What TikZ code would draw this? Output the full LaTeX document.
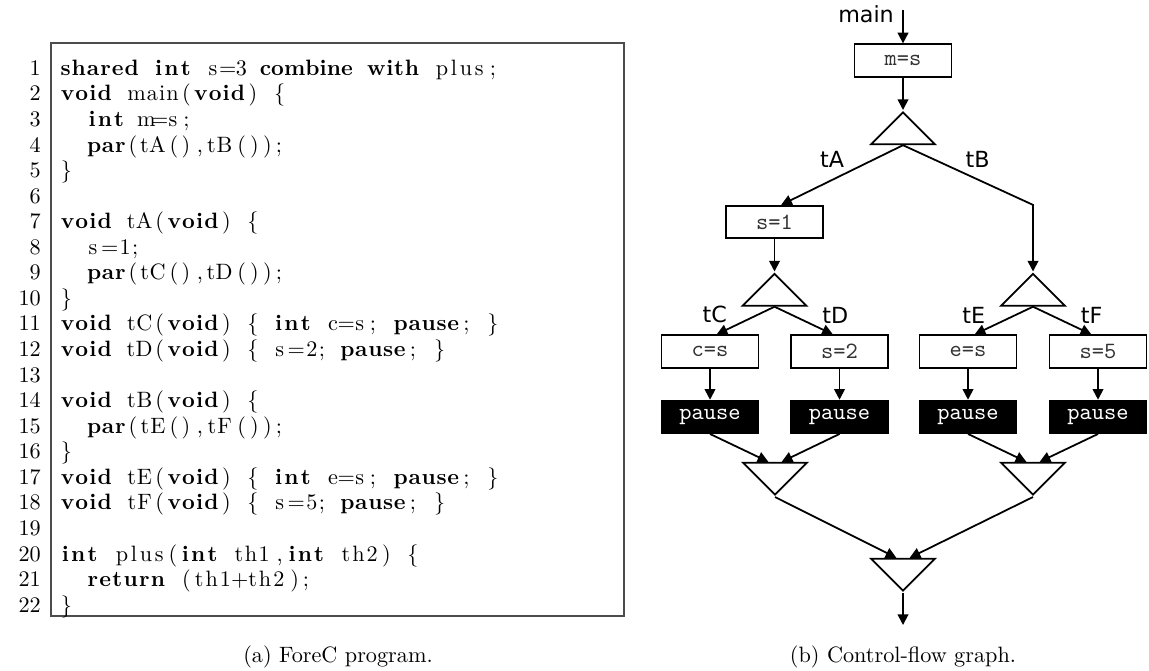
\documentclass[tikz,border=0pt]{standalone}
\begin{filecontents*}[overwrite]{prog.c}
shared int s=3 combine with plus;
void main(void) {
  int m=s;
  par(tA(),tB());
}

void tA(void) {
  s=1;
  par(tC(),tD());
}
void tC(void) { int c=s; pause; }
void tD(void) { s=2; pause; }

void tB(void) {
  par(tE(),tF());
}
void tE(void) { int e=s; pause; }
void tF(void) { s=5; pause; }

int plus(int th1,int th2) {
  return (th1+th2);
}
\end{filecontents*}
\usepackage{fontspec}
\usepackage{listings}
\usepackage{tikz}
\usetikzlibrary{arrows.meta}
\usetikzlibrary{shapes.geometric,positioning}

\newfontfamily\cfgsans{DejaVu Sans}

\lstset{language=C,morekeywords={shared,combine,with,par,pause},
  basicstyle=\fontsize{10}{11.5}\selectfont\rmfamily,keywordstyle=\bfseries,
  numbers=left,numberstyle=\fontsize{10}{11.5}\selectfont,numbersep=8.5pt,columns=fixed,
  aboveskip=0pt,belowskip=0pt}

\begin{document}
\begin{tikzpicture}[x=0.45pt,y=-0.45pt,>={Triangle[length=4.8pt,width=4.8pt]},
                    line width=0.8pt,
                    stmt/.style={rectangle,draw,minimum width=43.6pt,minimum height=14.6pt,
                                 inner sep=0pt,font=\ttfamily\fontsize{10.5}{11}\selectfont,text=black!80},
                    pausebox/.style={stmt,fill=black,text=white},
                    forknode/.style={isosceles triangle,isosceles triangle stretches,draw,
                                 shape border rotate=90,minimum width=28.8pt,minimum height=14.4pt,inner sep=0pt},
                    joinnode/.style={forknode,shape border rotate=270},
                    lbl/.style={font=\cfgsans\fontsize{10}{12}\selectfont,inner sep=1.5pt}]
  \useasboundingbox (0,0) rectangle (1149,670);

  % (a) the program
  \draw[line width=0.5pt,black!70] (51,43) rectangle (624,616);
  \node[anchor=north west,inner sep=0pt,text width=250.85pt] (code) at (58.8,49) {\lstinputlisting{prog.c}};
  \node (capa) at (338,657) {(a) ForeC program.};

  % (b) the graph
  \coordinate (start) at (903,10);
  \node[lbl,anchor=east] (mainlbl) at (898,14) {main};
  \node[stmt] (ms) at (903,60.5) {m=s};
  \node[forknode,anchor=apex] (f0) at (903,110) {};
  \node[stmt] (s1) at (774.5,222) {s=1};
  \node[forknode,anchor=apex] (fA) at (774.5,271.5) {};
  \node[forknode,anchor=apex] (fB) at (1033,271.5) {};

  \node[stmt] (cs) at (710,351.5) {c=s};
  \node[stmt] (s2) at (839.5,351.5) {s=2};
  \node[stmt] (es) at (968,351.5) {e=s};
  \node[stmt] (s5) at (1098,351.5) {s=5};
  \node[pausebox,below=14pt of cs] (pc) {pause};
  \node[pausebox,below=14pt of s2] (pd) {pause};
  \node[pausebox,below=14pt of es] (pe) {pause};
  \node[pausebox,below=14pt of s5] (pf) {pause};

  \node[joinnode,anchor=apex] (jl) at (775,497) {};
  \node[joinnode,anchor=apex] (jr) at (1033,497) {};
  \node[joinnode,anchor=apex] (jall) at (903,593) {};
  \coordinate (end) at (903,625);

  \draw[->] (start) -- (ms);
  \draw[->] (ms) -- (f0.apex);
  \draw[->] (f0.lower side) -- node[lbl,pos=.45,above right] {tB} (fB.apex |- s1.north) -- (fB.apex);
  \path[->,every node/.style={lbl}]
    (f0.lower side) edge node[pos=.45,above left] {tA} ([xshift=3pt]s1.north)
    (s1) edge (fA.apex)
    (fA.lower side) edge node[pos=.75,above left] {tC} ([xshift=3pt]cs.north)
    (fA.lower side) edge node[pos=.75,above right] {tD} ([xshift=-3pt]s2.north)
    (fB.lower side) edge node[pos=.75,above left] {tE} ([xshift=3pt]es.north)
    (fB.lower side) edge node[pos=.75,above right] {tF} ([xshift=-3pt]s5.north)
    (cs) edge (pc)
    (s2) edge (pd)
    (es) edge (pe)
    (s5) edge (pf)
    (pc.south) edge ([xshift=-3pt]jl.lower side)
    (pd.south) edge ([xshift=3pt]jl.lower side)
    (pe.south) edge ([xshift=-3pt]jr.lower side)
    (pf.south) edge ([xshift=3pt]jr.lower side)
    (jl.apex) edge ([xshift=-3pt]jall.lower side)
    (jr.apex) edge ([xshift=3pt]jall.lower side)
    (jall.apex) edge (end);
  \node (capb) at (903,657) {(b) Control-flow graph.};
\end{tikzpicture}
\end{document}
